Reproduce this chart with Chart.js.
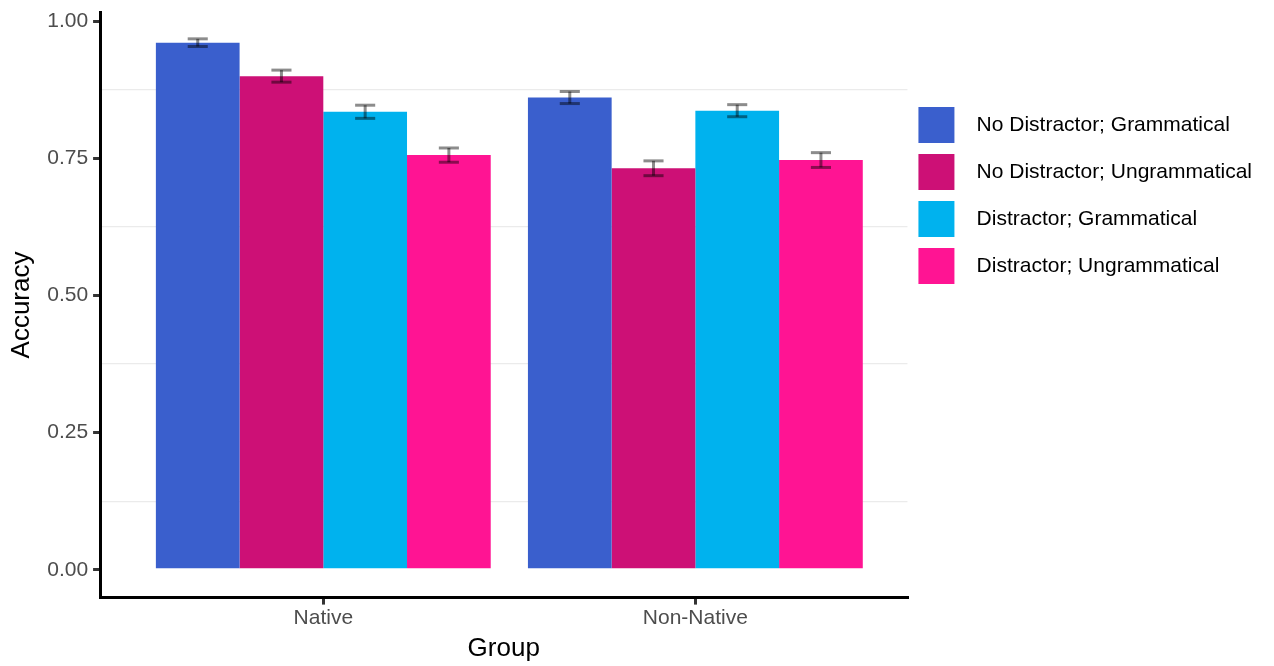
<!DOCTYPE html>
<html>
<head>
<meta charset="utf-8">
<script src="https://cdn.jsdelivr.net/npm/chart.js@4"></script>
<style>
  html, body { margin: 0; padding: 0; background: #fff; }
  #wrap { width: 1274px; height: 666px; }
</style>
</head>
<body>
<div id="wrap"><canvas id="barChart"></canvas></div>
<script>
var groups = ['Native', 'Non-Native'];
var groupPos = [1, 2];
var conditions = ['No Distractor; Grammatical', 'No Distractor; Ungrammatical', 'Distractor; Grammatical', 'Distractor; Ungrammatical'];
var colors = ['#3A5FCD', '#CD1076', '#00B2EE', '#FF1493'];

// accuracy per condition, one value per group
var noDistGram = [0.961, 0.861];
var noDistUngram = [0.900, 0.732];
var distGram = [0.835, 0.837];
var distUngram = [0.756, 0.747];

// half-width of the error bars
var noDistGramErr = [0.007, 0.011];
var noDistUngramErr = [0.011, 0.0135];
var distGramErr = [0.012, 0.011];
var distUngramErr = [0.013, 0.0135];

var yTicks = [0, 0.25, 0.5, 0.75, 1];
var yMinor = [0.125, 0.375, 0.625, 0.875];

var seriesValues = [noDistGram, noDistUngram, distGram, distUngram];
var seriesErrors = [noDistGramErr, noDistUngramErr, distGramErr, distUngramErr];

function buildDatasets(){
    var sets = [];
    for(i = 0; i < conditions.length; i++){
        var pts = [];
        for(j = 0; j < groups.length; j++){
            pts.push({x: groupPos[j], y: seriesValues[i][j]});
        }
        sets.push({
            label: conditions[i],
            data: pts,
            errors: seriesErrors[i],
            backgroundColor: colors[i],
            borderWidth: 0
        });
    }
    return sets;
}

var errorBars = {
    id: 'errorBars',
    afterDatasetsDraw: function(chart){
        var ctx = chart.ctx;
        var yScale = chart.scales.y;
        ctx.save();
        ctx.strokeStyle = 'rgba(0,0,0,0.45)';
        ctx.lineWidth = 3;
        chart.data.datasets.forEach(function(ds, i){
            var meta = chart.getDatasetMeta(i);
            meta.data.forEach(function(bar, j){
                var v = ds.data[j].y, e = ds.errors[j];
                var top = yScale.getPixelForValue(v + e);
                var bot = yScale.getPixelForValue(v - e);
                var half = bar.width * 0.12;
                ctx.beginPath();
                ctx.moveTo(bar.x, top); ctx.lineTo(bar.x, bot);
                ctx.stroke();
                ctx.beginPath();
                ctx.moveTo(bar.x - half, top); ctx.lineTo(bar.x + half, top);
                ctx.stroke();
                ctx.beginPath();
                ctx.moveTo(bar.x - half, bot); ctx.lineTo(bar.x + half, bot);
                ctx.stroke();
            });
        });
        ctx.restore();
    }
};

function isMinor(v){
    return yMinor.indexOf(Math.round(v * 1000) / 1000) >= 0;
}

var ctx = document.getElementById('barChart').getContext('2d');
var barChart = new Chart(ctx, {
    type: 'bar',
    data: { datasets: buildDatasets() },
    plugins: [errorBars],
    options: {
        responsive: true,
        maintainAspectRatio: false,
        animation: false,
        layout: { padding: { left: 2, right: 12, top: 0, bottom: 0 } },
        datasets: { bar: { categoryPercentage: 0.9, barPercentage: 1.0 } },
        font: { family: 'Liberation Sans, Arial, sans-serif' },
        scales: {
            x: {
                type: 'linear',
                min: 0.4,
                max: 2.57,
                offset: false,
                afterBuildTicks: function(axis){
                    axis.ticks = groupPos.map(function(p){ return {value: p}; });
                },
                ticks: {
                    color: '#4d4d4d',
                    font: { size: 21 },
                    padding: 1,
                    callback: function(value){ return groups[groupPos.indexOf(value)]; }
                },
                grid: { offset: false, drawOnChartArea: false, drawTicks: true, tickLength: 7, tickColor: '#333', lineWidth: 3 },
                border: { color: '#000', width: 3 },
                title: { display: true, text: 'Group', color: '#000', font: { size: 26 }, padding: { top: 1, bottom: 2 } }
            },
            y: {
                min: -0.0508,
                max: 1.0163,
                afterBuildTicks: function(axis){
                    axis.ticks = yTicks.concat(yMinor).sort().map(function(v){ return {value: v}; });
                },
                ticks: {
                    color: '#4d4d4d',
                    font: { size: 21, lineHeight: 0.7 },
                    padding: 5,
                    autoSkip: false,
                    callback: function(value){ return isMinor(value) ? '' : value.toFixed(2); }
                },
                grid: {
                    drawTicks: true,
                    tickLength: 7,
                    lineWidth: function(c){ return isMinor(c.tick.value) ? 1.3 : 3; },
                    color: function(c){ return isMinor(c.tick.value) ? '#ebebeb' : 'rgba(0,0,0,0)'; },
                    tickColor: function(c){ return isMinor(c.tick.value) ? 'rgba(0,0,0,0)' : '#333'; }
                },
                border: { color: '#000', width: 3 },
                title: { display: true, text: 'Accuracy', color: '#000', font: { size: 26 }, padding: { top: 4, bottom: 5 } }
            }
        },
        plugins: {
            tooltip: { enabled: false },
            legend: {
                position: 'right',
                align: 'start',
                maxWidth: 420,
                title: { display: true, text: '', font: { size: 10, lineHeight: 1 }, padding: { top: 86, bottom: 0 } },
                labels: {
                    boxWidth: 36,
                    boxHeight: 36,
                    padding: 11,
                    color: '#000',
                    font: { size: 21 },
                    generateLabels: function(chart){
                        return chart.data.datasets.map(function(ds, i){
                            return { text: '  ' + ds.label, fillStyle: ds.backgroundColor, strokeStyle: ds.backgroundColor, fontColor: '#000', lineWidth: 0, datasetIndex: i };
                        });
                    }
                }
            }
        }
    }
});
</script>
</body>
</html>
